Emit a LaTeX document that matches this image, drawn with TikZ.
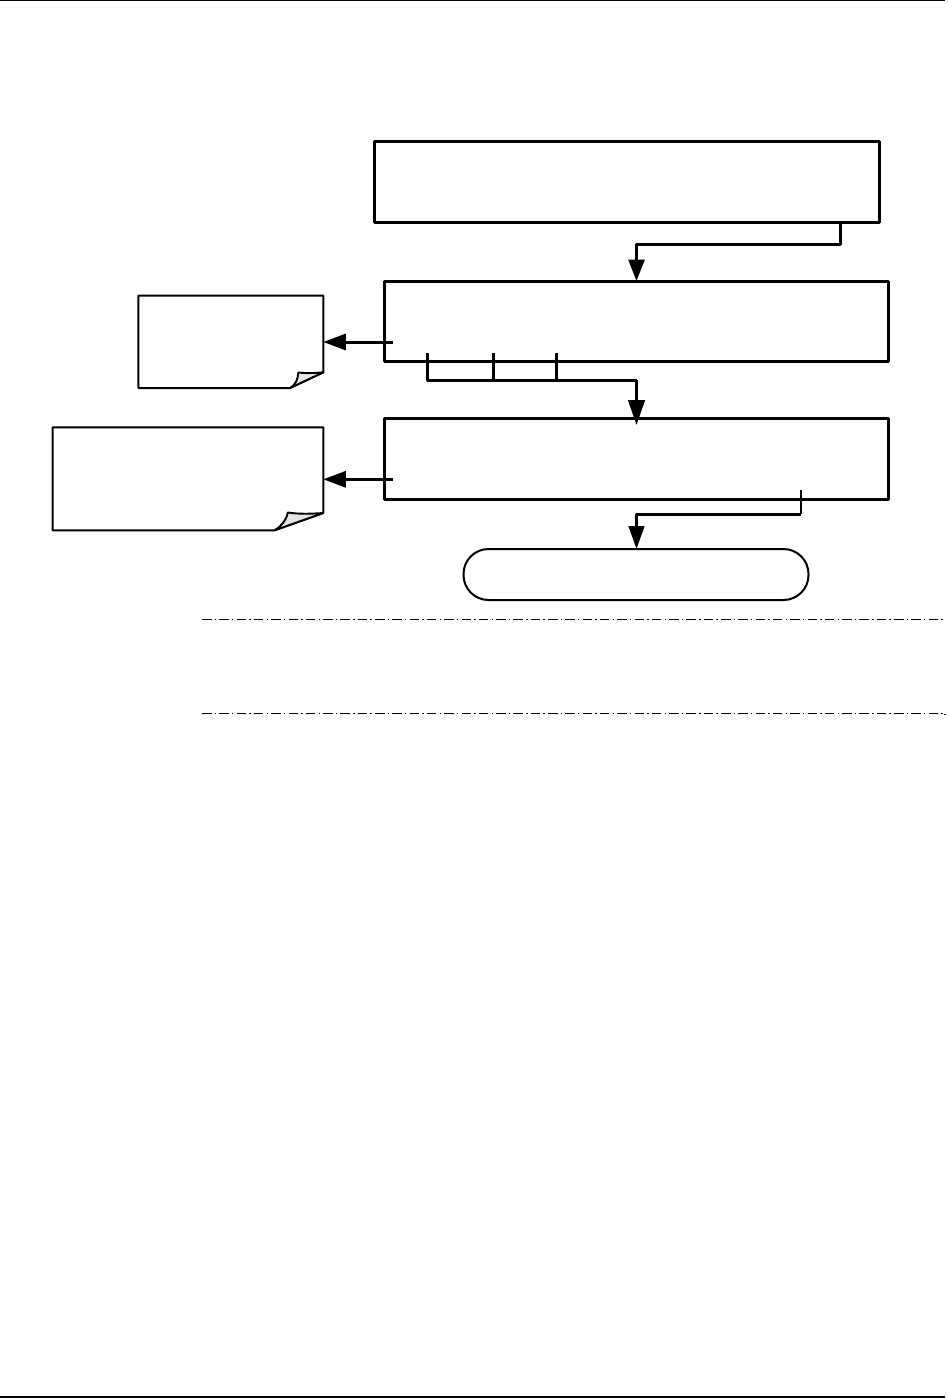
\documentclass[tikz,border=0pt]{standalone}
\usetikzlibrary{arrows.meta,calc}
\definecolor{foldgray}{gray}{0.9}
\tikzset{
  boxnode/.style={draw=black,line width=3pt,fill=white,rectangle,inner sep=0pt,outer sep=0pt,anchor=north west,line join=round},
  notebody/.style={rectangle,inner sep=0pt,outer sep=0pt,anchor=north west},
  noteline/.style={draw=black,line width=2pt,line join=round,fill=white},
  foldline/.style={draw=black,line width=1.9pt,line join=round,fill=foldgray},
  termnode/.style={draw=black,line width=2pt,rectangle,rounded corners=25pt,fill=white,inner sep=0pt,outer sep=0pt,anchor=north west},
  link/.style={draw=black,line width=3pt,line join=round},
  thinlink/.style={draw=black,line width=1.9pt,line join=round},
  headdown/.style={-{Triangle[length=21.5pt,width=16pt]}},
  headlong/.style={-{Triangle[length=25pt,width=16.5pt]}},
  headterm/.style={-{Triangle[length=23pt,width=15.5pt]}},
  headleft/.style={-{Triangle[length=22.5pt,width=16pt]}},
  rulefull/.style={draw=black,line width=1.6pt},
  ruledash/.style={draw=black,line width=1pt,dash pattern=on 9.5pt off 3.2pt on 1.4pt off 3.2pt},
}
\begin{document}
\begin{tikzpicture}[x=1pt,y=-1pt]
\useasboundingbox (0,0) rectangle (948,1398);
% page rules
\coordinate (topL) at (0,0.6); \coordinate (topR) at (945,0.6);
\coordinate (botL) at (0,1397); \coordinate (botR) at (945,1397);
\draw[rulefull] (topL) -- (topR);
\draw[rulefull] (botL) -- (botR);
% process boxes
\node[boxnode,minimum width=505pt,minimum height=81pt] (boxA) at (374,141) {};
\node[boxnode,minimum width=504.2pt,minimum height=80.7pt] (boxB) at (384.5,281) {};
\node[boxnode,minimum width=504.2pt,minimum height=81pt] (boxC) at (384.5,418) {};
\node[termnode,minimum width=345pt,minimum height=51pt] (term) at (463.5,549) {};
% notes
\node[notebody,minimum width=185pt,minimum height=92.3pt] (noteA) at (138.3,295.7) {};
\node[notebody,minimum width=270.6pt,minimum height=103pt] (noteB) at (52.7,427.3) {};
\draw[noteline] (noteA.north west) -- (noteA.north east) -- ($(noteA.south east)+(0,-15.7)$)
  -- ($(noteA.south east)+(-33.3,0)$) -- (noteA.south west) -- cycle;
\draw[foldline] ($(noteA.south east)+(-33.3,0)$) .. controls ($(noteA.south east)+(-27,-4)$) and ($(noteA.south east)+(-25.5,-9)$) .. ($(noteA.south east)+(-25,-15.5)$)
  .. controls ($(noteA.south east)+(-17,-14.5)$) and ($(noteA.south east)+(-8,-15)$) .. ($(noteA.south east)+(0,-15.7)$) -- cycle;
\draw[noteline] (noteB.north west) -- (noteB.north east) -- ($(noteB.south east)+(0,-17.3)$)
  -- ($(noteB.south east)+(-48.8,0)$) -- (noteB.south west) -- cycle;
\draw[foldline] ($(noteB.south east)+(-48.8,0)$) .. controls ($(noteB.south east)+(-42,-4)$) and ($(noteB.south east)+(-37,-10)$) .. ($(noteB.south east)+(-35.5,-17.8)$)
  .. controls ($(noteB.south east)+(-24,-16)$) and ($(noteB.south east)+(-12,-16.5)$) .. ($(noteB.south east)+(0,-17.3)$) -- cycle;
% connector anchors
\coordinate (downX) at (636.5,0);
\coordinate (aOut) at (840,222);
\coordinate (aBend) at (840,244);
\coordinate (bTick1) at (427.5,353);
\coordinate (bTick2) at (493,353);
\coordinate (bTick3) at (556,353);
\coordinate (barY) at (0,380);
\coordinate (bArrowTip) at (636.5,425);
\coordinate (cOut) at (801,490);
\coordinate (cBend) at (801,514.3);
\coordinate (bLeft) at (392.7,342);
\coordinate (cLeft) at (392.7,479.3);
\coordinate (dotA) at (943.5,714.6);
\coordinate (dotB) at (945.5,714.6);
% connectors
\draw[link,headdown] (aOut) -- (aBend) -- (downX |- aBend) -- (downX |- boxB.north);
\draw[link] (bTick1) -- (bTick1 |- barY) -- (bArrowTip |- barY);
\draw[link] (bTick2) -- (bTick2 |- barY);
\draw[link] (bTick3) -- (bTick3 |- barY);
\draw[link,headlong] (bArrowTip |- barY) -- (bArrowTip);
\draw[thinlink] (cOut) -- (cBend);
\draw[link,headterm] (cBend) -- (downX |- cBend) -- (downX |- term.north);
\draw[link,headleft] (bLeft) -- (noteA.east |- bLeft);
\draw[link,headleft] (cLeft) -- (noteB.east |- cLeft);
% dash-dot rules
\coordinate (dashAL) at (202,619.3); \coordinate (dashAR) at (945,619.3);
\coordinate (dashBL) at (202,713.5); \coordinate (dashBR) at (945,713.5);
\draw[ruledash] (dashAL) -- (dashAR);
\draw[ruledash] (dashBL) -- (dashBR);
\draw[draw=black,line width=1.4pt] (dotA) -- (dotB);
\end{tikzpicture}
\end{document}
